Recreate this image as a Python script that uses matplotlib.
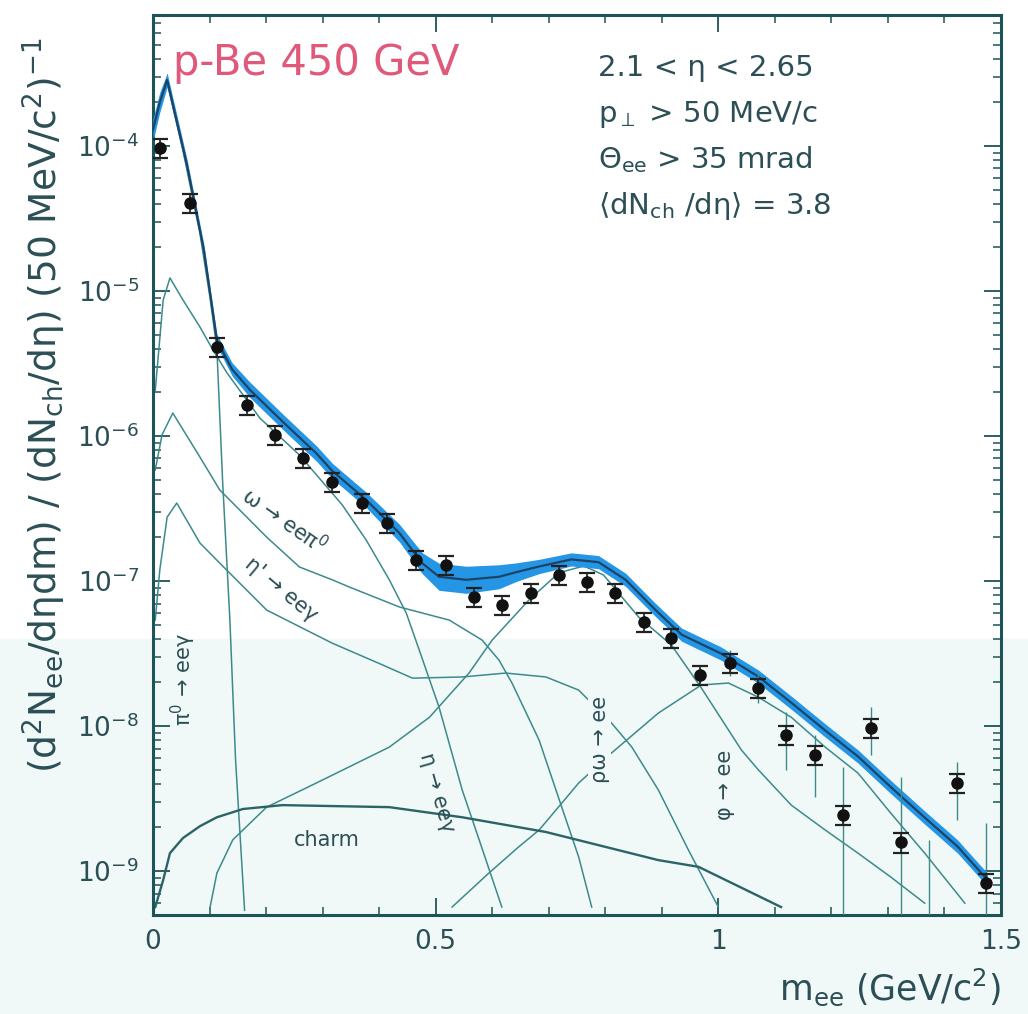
import numpy as np
import matplotlib
matplotlib.use("Agg")
from matplotlib import pyplot as plt
from matplotlib.ticker import FixedLocator, LogLocator, MultipleLocator, NullFormatter
from matplotlib.patches import Rectangle

plt.rcParams['font.family'] = ['DejaVu Sans']
plt.rcParams['mathtext.default'] = 'regular'

# measured e+e- pairs (m in GeV/c^2)
m_data = [0.012, 0.065, 0.113, 0.166, 0.215, 0.265, 0.316, 0.370, 0.414, 0.466,
          0.519, 0.568, 0.617, 0.668, 0.718, 0.767, 0.818, 0.868, 0.917, 0.968,
          1.021, 1.071, 1.12, 1.171, 1.22, 1.27, 1.323, 1.373, 1.423, 1.473]
y_data = [9.68e-5, 4.05e-5, 4.11e-6, 1.64e-6, 1.02e-6, 7.05e-7, 4.82e-7, 3.45e-7, 2.51e-7, 1.40e-7,
          1.29e-7, 7.76e-8, 6.82e-8, 8.26e-8, 1.10e-7, 9.84e-8, 8.26e-8, 5.21e-8, 4.05e-8, 2.25e-8,
          2.72e-8, 1.83e-8, 8.67e-9, 6.31e-9, 2.43e-9, 9.68e-9, 1.58e-9, 3.0e-10, 4.05e-9, 8.26e-10]
# statistical errors, fraction of the value (up / down)
stat_up = [0.12] * 20 + [0.23, 0.27, 0.44, 0.37, 1.14, 0.40, 1.8, 4.47, 0.40, 1.6]
stat_dn = [0.11] * 20 + [0.19, 0.21, 0.43, 0.49, 0.999, 0.35, 0.999, 0.999, 0.44, 0.999]
sys_frac = 0.15

# total cocktail with its systematic band
m_total = [0.0, 0.012, 0.025, 0.06, 0.09, 0.113, 0.14, 0.171, 0.229, 0.289, 0.317, 0.377, 0.436,
           0.476, 0.506, 0.554, 0.612, 0.642, 0.683, 0.74, 0.788, 0.836, 0.889, 0.935, 1.005,
           1.071, 1.129, 1.189, 1.247, 1.305, 1.365, 1.423, 1.476]
y_total = [1.29e-4, 2.0e-4, 2.85e-4, 7.41e-5, 1.91e-5, 4.57e-6, 2.88e-6, 2.09e-6, 1.26e-6, 7.59e-7,
           5.75e-7, 3.63e-7, 2.14e-7, 1.33e-7, 1.07e-7, 1.02e-7, 1.07e-7, 1.15e-7, 1.26e-7, 1.41e-7,
           1.35e-7, 1.02e-7, 6.31e-8, 4.27e-8, 3.16e-8, 2.19e-8, 1.45e-8, 9.33e-9, 6.17e-9, 3.80e-9,
           2.34e-9, 1.48e-9, 8.71e-10]
band_fac = [1.20, 1.17, 1.12, 1.10, 1.10, 1.10, 1.11, 1.13, 1.13, 1.13, 1.13, 1.13, 1.15,
            1.18, 1.24, 1.24, 1.21, 1.16, 1.12, 1.11, 1.11, 1.11, 1.11, 1.11, 1.11,
            1.11, 1.11, 1.11, 1.11, 1.11, 1.11, 1.11, 1.11]

# cocktail sources
m_pi0 = [0.0, 0.012, 0.025, 0.053, 0.083, 0.101, 0.113, 0.123, 0.136, 0.146, 0.162]
y_pi0 = [1.29e-4, 2.09e-4, 2.75e-4, 9.3e-5, 2.5e-5, 8.9e-6, 3.98e-6, 5.01e-7, 5.37e-8, 5.89e-9, 5.37e-10]

m_eta = [0.004, 0.018, 0.030, 0.053, 0.083, 0.106, 0.131, 0.189, 0.259, 0.335, 0.377, 0.418,
         0.448, 0.471, 0.506, 0.547, 0.577, 0.617]
y_eta = [2.07e-6, 8.67e-6, 1.23e-5, 8.67e-6, 5.65e-6, 3.92e-6, 2.72e-6, 1.33e-6, 7.40e-7, 3.34e-7,
         1.92e-7, 1.02e-7, 6.01e-8, 3.34e-8, 1.35e-8, 3.62e-9, 1.64e-9, 5.65e-10]

m_omega_dal = [0.004, 0.016, 0.035, 0.083, 0.118, 0.201, 0.259, 0.317, 0.347, 0.436, 0.524, 0.582,
               0.612, 0.635, 0.683, 0.723, 0.753, 0.776]
y_omega_dal = [5.83e-7, 1.02e-6, 1.44e-6, 7.16e-7, 4.25e-7, 2.01e-7, 1.25e-7, 1.02e-7, 9.1e-8, 6.62e-8,
               5.38e-8, 3.92e-8, 2.85e-8, 1.98e-8, 8.0e-9, 2.76e-9, 1.25e-9, 5.65e-10]

m_etap = [0.004, 0.012, 0.025, 0.042, 0.083, 0.118, 0.201, 0.317, 0.406, 0.459, 0.547, 0.624,
          0.695, 0.753, 0.811, 0.847, 0.894, 0.947, 1.0]
y_etap = [5.38e-8, 1.19e-7, 2.76e-7, 3.45e-7, 1.83e-7, 1.33e-7, 6.31e-8, 3.73e-8, 2.64e-8, 2.14e-8,
          2.18e-8, 2.32e-8, 2.18e-8, 1.77e-8, 1.05e-8, 7.16e-9, 3.62e-9, 1.40e-9, 5.65e-10]

m_rho = [0.101, 0.113, 0.141, 0.201, 0.289, 0.418, 0.489, 0.559, 0.600, 0.665, 0.718, 0.762,
         0.797, 0.859, 0.917, 0.970, 1.041, 1.071, 1.129, 1.189, 1.247, 1.305, 1.365]
y_rho = [5.65e-10, 9.68e-10, 1.64e-9, 2.76e-9, 4.05e-9, 7.16e-9, 1.15e-8, 2.32e-8, 3.92e-8, 7.40e-8,
         1.14e-7, 1.27e-7, 1.10e-7, 5.65e-8, 3.62e-8, 1.83e-8, 6.82e-9, 4.98e-9, 2.85e-9, 1.92e-9,
         1.33e-9, 9.1e-10, 6.01e-10]

m_phi = [0.529, 0.594, 0.647, 0.683, 0.753, 0.811, 0.894, 0.970, 1.018, 1.071, 1.129, 1.189,
         1.247, 1.305, 1.365, 1.436]
y_phi = [5.65e-10, 9.68e-10, 1.47e-9, 1.92e-9, 4.05e-9, 6.52e-9, 1.23e-8, 1.92e-8, 1.98e-8, 1.58e-8,
         1.15e-8, 7.16e-9, 4.74e-9, 2.51e-9, 1.33e-9, 6.01e-10]

m_charm = [0.004, 0.018, 0.030, 0.053, 0.083, 0.113, 0.159, 0.229, 0.418, 0.547, 0.695, 0.894, 0.965, 1.111]
y_charm = [5.65e-10, 8.67e-10, 1.33e-9, 1.69e-9, 2.04e-9, 2.35e-9, 2.68e-9, 2.85e-9, 2.76e-9, 2.35e-9,
           1.86e-9, 1.19e-9, 1.07e-9, 5.65e-10]

y_major = [1e-9, 1e-8, 1e-7, 1e-6, 1e-5, 1e-4]

frame_col = '#1d5457'
text_col = '#2b4f55'
curve_col = '#3d8a8c'
tint = '#f0f9f7'

fig = plt.figure(figsize=(10.28, 10.14), dpi=100)
fig.patches.append(Rectangle((0, 0), 1, 0.37, transform=fig.transFigure,
                             color=tint, zorder=-10))
ax = fig.add_axes([153 / 1028, 1 - 915 / 1014, 848 / 1028, 900 / 1014])
ax.set_facecolor('none')

# components
for mm, yy in [(m_pi0, y_pi0), (m_eta, y_eta), (m_omega_dal, y_omega_dal),
               (m_etap, y_etap), (m_rho, y_rho), (m_phi, y_phi)]:
    ax.plot(mm, yy, color=curve_col, lw=1.1, zorder=2)
ax.plot(m_charm, y_charm, color='#2b6466', lw=1.7, zorder=2)

# total band
yt = np.array(y_total)
bf = np.array(band_fac)
ax.fill_between(m_total, yt / bf, yt * bf, color='#2596e6', lw=0, zorder=3)
ax.plot(m_total, y_total, color='#1b4466', lw=1.6, zorder=4)

# data
yd = np.array(y_data)
ax.errorbar(m_data, y_data, yerr=[yd * np.array(stat_dn), yd * np.array(stat_up)],
            fmt='none', ecolor=curve_col, elinewidth=1.0, zorder=5)
ax.errorbar(m_data, y_data, yerr=[yd * sys_frac, yd * sys_frac], fmt='none',
            ecolor='#222222', elinewidth=1.2, capsize=6, capthick=1.6, zorder=6)
ax.plot(m_data, y_data, 'o', color='#111111', ms=8, zorder=7)

ax.set_yscale('log')
ax.set_xlim(0, 1.5)
ax.set_ylim(4.98e-10, 8.0e-4)

ax.xaxis.set_minor_locator(MultipleLocator(0.1))
ax.set_xticks([0, 0.5, 1, 1.5])
ax.set_xticklabels(['0', '0.5', '1', '1.5'])
ax.yaxis.set_major_locator(FixedLocator(y_major))
ax.yaxis.set_minor_locator(LogLocator(base=10, subs=np.arange(2, 10), numticks=20))
ax.yaxis.set_minor_formatter(NullFormatter())

ax.tick_params(which='both', direction='in', top=True, right=True,
               color=frame_col, labelcolor=text_col, labelsize=19)
ax.tick_params(which='major', length=12, width=1.3, pad=10)
ax.tick_params(which='minor', length=6, width=1.1)
for s in ax.spines.values():
    s.set_color(frame_col)
    s.set_linewidth(2.2)

ax.set_xlabel(r'm$_{ee}$ (GeV/c$^2$)', fontsize=25, color=text_col, loc='right', labelpad=8)
ax.set_ylabel(r'(d$^2$N$_{ee}$/dηdm) / (dN$_{ch}$/dη) (50 MeV/c$^2$)$^{-1}$',
              fontsize=27, color=text_col)
ax.yaxis.set_label_coords(-0.1, 0.566)

ax.text(0.024, 0.933, 'p-Be 450 GeV', transform=ax.transAxes, fontsize=30,
        color='#e0587a', va='baseline')
info = ['2.1 < η < 2.65', r'p$_{\perp}$ > 50 MeV/c', r'$\Theta_{ee}$ > 35 mrad',
        r'$\langle$dN$_{ch}$ /d$\eta\rangle$ = 3.8']
for i, t in enumerate(info):
    ax.text(0.525, 0.932 - i * 0.051, t, transform=ax.transAxes, fontsize=21,
            color=text_col, va='baseline')

lab = dict(color=text_col, fontsize=15, ha='center', va='center', rotation_mode='anchor')
ax.text(0.053, 2.1e-8, r'π$^0$ → eeγ', rotation=90, **lab)
ax.text(0.233, 2.6e-7, r'ω → eeπ$^0$', rotation=-35, **lab)
ax.text(0.226, 8.7e-8, "η' → eeγ", rotation=-40, **lab)
ax.text(0.503, 3.5e-9, 'η → eeγ', rotation=-74, **lab)
ax.text(0.790, 8.1e-9, 'ρω → ee', rotation=90,
        bbox=dict(facecolor=tint, edgecolor='none', pad=1), **lab)
ax.text(1.012, 3.9e-9, 'φ → ee', rotation=90, **lab)
ax.text(0.307, 1.64e-9, 'charm', **lab)

fig.savefig('out.png', dpi=100)
